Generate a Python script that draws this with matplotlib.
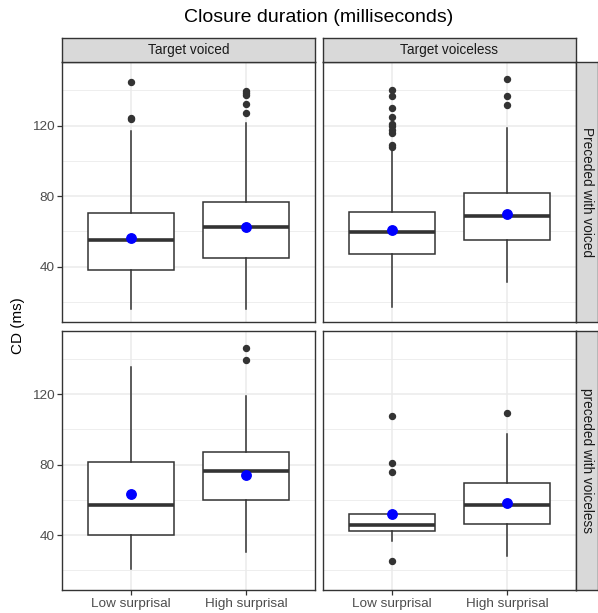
import matplotlib
matplotlib.use("Agg")
import matplotlib.pyplot as plt
from matplotlib.ticker import MultipleLocator

plt.rcParams["font.family"] = ["Liberation Sans", "DejaVu Sans"]

categories = ["Low surprisal", "High surprisal"]
col_labels = ["Target voiced", "Target voiceless"]
row_labels = ["Preceded with voiced", "preceded with voiceless"]

# panel order: top-left, top-right, bottom-left, bottom-right; each [low, high]
whisker_low = [[16, 16], [17, 31.5], [21, 30.5], [36.5, 28]]
q1 = [[38.3, 45], [47.2, 55], [40.2, 60], [42.1, 46.1]]
medians = [[54.8, 62.2], [59.5, 68.6], [57.1, 76.4], [45.9, 57.1]]
q3 = [[70.5, 76.4], [71.1, 81.5], [81.7, 87.4], [52, 69.3]]
whisker_high = [[116.7, 121.5], [106, 118.6], [135.6, 118.7], [52, 97.5]]
means = [[56.3, 62.4], [61, 70], [63.4, 74.3], [52, 58.3]]
outliers = [
    [[123.7, 124.5, 144.7], [127.3, 132.4, 137.6, 138.5, 139.4]],
    [[107.8, 109, 115.8, 117.7, 119.6, 121.1, 124.9, 130, 137, 140.4],
     [131.7, 137, 146.7]],
    [[], [139.3, 146.1]],
    [[25, 75.6, 81, 107.6], [109.3]],
]

W, H = 598, 613
fig = plt.figure(figsize=(W / 100, H / 100), dpi=100)

GREY20 = "#333333"
GRID = "#EBEBEB"
STRIP = "#D9D9D9"

col_x = [62, 323]
panel_w = 253
row_y = [62, 330.5]
panel_h = 259.5


def frac(x, y, w, h):
    return [x / W, 1 - (y + h) / H, w / W, h / H]


for i in range(4):
    r, c = divmod(i, 2)
    ax = fig.add_axes(frac(col_x[c], row_y[r], panel_w, panel_h))
    stats = []
    for j in range(2):
        stats.append(dict(med=medians[i][j], q1=q1[i][j], q3=q3[i][j],
                          whislo=whisker_low[i][j], whishi=whisker_high[i][j],
                          fliers=outliers[i][j]))
    ax.bxp(stats, positions=[1, 2], widths=0.75, showcaps=False,
           patch_artist=True,
           boxprops=dict(facecolor="white", edgecolor=GREY20, linewidth=1.1),
           whiskerprops=dict(color=GREY20, linewidth=1.1),
           medianprops=dict(color=GREY20, linewidth=2.6),
           flierprops=dict(marker="o", markerfacecolor=GREY20,
                           markeredgecolor=GREY20, markersize=4.3),
           zorder=3)
    ax.plot([1, 2], means[i], "o", color="blue", markersize=6.8, zorder=5)

    ax.set_xlim(0.4, 2.6)
    ax.set_ylim(8.8, 156.1)
    ax.yaxis.set_major_locator(MultipleLocator(40))
    ax.yaxis.set_minor_locator(MultipleLocator(20))
    ax.set_xticks([1, 2])
    ax.grid(which="major", color=GRID, linewidth=1.1, zorder=0)
    ax.grid(which="minor", axis="y", color=GRID, linewidth=0.6, zorder=0)
    ax.set_axisbelow(True)
    for s in ax.spines.values():
        s.set_color(GREY20)
        s.set_linewidth(1.0)

    ax.tick_params(which="minor", length=0)
    ax.tick_params(which="major", color=GREY20, length=3.5, width=0.9,
                   labelcolor="#4D4D4D", labelsize=9.7, pad=2)
    if r == 1:
        ax.set_xticklabels(categories)
    else:
        ax.tick_params(axis="x", length=0, labelbottom=False)
    if c != 0:
        ax.tick_params(axis="y", length=0, labelleft=False)

# column strips
for c in range(2):
    sax = fig.add_axes(frac(col_x[c], 38, panel_w, 24))
    sax.set_facecolor(STRIP)
    sax.set_xticks([])
    sax.set_yticks([])
    for s in sax.spines.values():
        s.set_color(GREY20)
        s.set_linewidth(1.0)
    sax.text(0.5, 0.5, col_labels[c], ha="center", va="center",
             fontsize=9.8, color="#1A1A1A", transform=sax.transAxes)

# row strips
for r in range(2):
    sax = fig.add_axes(frac(col_x[1] + panel_w, row_y[r], 22, panel_h))
    sax.set_facecolor(STRIP)
    sax.set_xticks([])
    sax.set_yticks([])
    for s in sax.spines.values():
        s.set_color(GREY20)
        s.set_linewidth(1.0)
    sax.text(0.5, 0.5, row_labels[r], ha="center", va="center",
             rotation=-90, fontsize=9.8, color="#1A1A1A",
             transform=sax.transAxes)

fig.text(319 / W, 1 - 18 / H, "Closure duration (milliseconds)",
         ha="center", va="center", fontsize=14)
fig.text(18 / W, 1 - 326 / H, "CD (ms)", ha="center", va="center",
         rotation=90, fontsize=11)

fig.savefig("out.png", dpi=100)
